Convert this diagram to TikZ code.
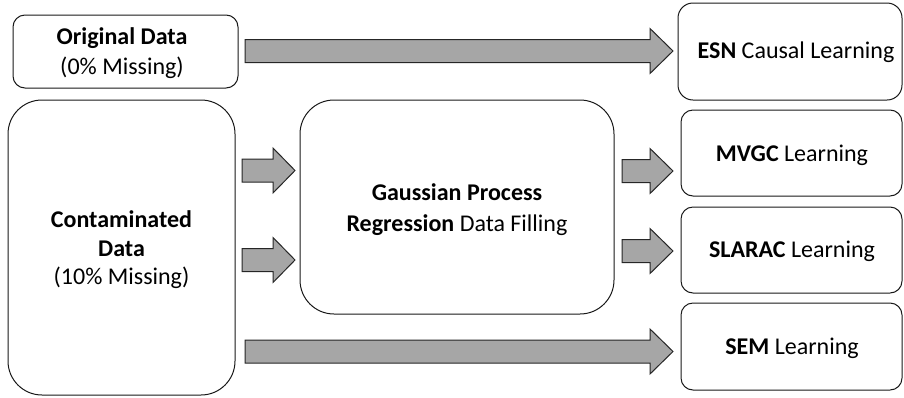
\documentclass[tikz,border=0pt]{standalone}
\usepackage{fontspec}
\setmainfont{Carlito}
\begin{document}
\begin{tikzpicture}[x=1pt,y=-1pt,
  box/.style={draw=black!90,line width=1pt,fill=white},
  lbl/.style={align=center,inner sep=0pt,font=\fontsize{24}{29}\selectfont},
  blockarrow/.style={draw=black!85,line width=1pt,fill=black!35}]
\useasboundingbox (0,0) rectangle (904,397);
% boxes
\draw[box,rounded corners=12] (13,15) rectangle (238,88);
\node[lbl,font=\fontsize{24}{30}\selectfont] (orig) at (122,53) {\textbf{Original Data}\\(0\% Missing)};
\draw[box,rounded corners=34] (8,100) rectangle (235,395);
\node[lbl,font=\fontsize{24}{28.5}\selectfont] (cont) at (121.5,250) {\textbf{Contaminated}\\\textbf{Data}\\(10\% Missing)};
\draw[box,rounded corners=34] (300,100) rectangle (614,314);
\node[lbl,font=\fontsize{24}{31}\selectfont] (gp) at (457,210) {\textbf{Gaussian Process}\\\textbf{Regression} Data Filling};
\draw[box,rounded corners=15] (678,3) rectangle (902,100);
\node[lbl] (esn) at (796,52) {\textbf{ESN} Causal Learning};
\draw[box,rounded corners=12] (681,110) rectangle (902,196);
\node[lbl] (mvgc) at (792,155) {\textbf{MVGC} Learning};
\draw[box,rounded corners=12] (681,207) rectangle (902,293);
\node[lbl] (slarac) at (792,251) {\textbf{SLARAC} Learning};
\draw[box,rounded corners=12] (681,303) rectangle (902,390);
\node[lbl] (sem) at (792,348) {\textbf{SEM} Learning};
% block arrows: x0, head start, tip, center y
\newcommand\blkarrow[4]{\draw[blockarrow] (#1,#4-11.5) -- (#2,#4-11.5) -- (#2,#4-22.5) -- (#3,#4) -- (#2,#4+22.5) -- (#2,#4+11.5) -- (#1,#4+11.5) -- cycle;}
\blkarrow{245}{650}{673}{51}
\blkarrow{242}{273}{295}{170.5}
\blkarrow{242}{273}{295}{260}
\blkarrow{622}{650}{673}{171}
\blkarrow{622}{650}{673}{251}
\blkarrow{245}{650}{673}{351.5}
\end{tikzpicture}
\end{document}
